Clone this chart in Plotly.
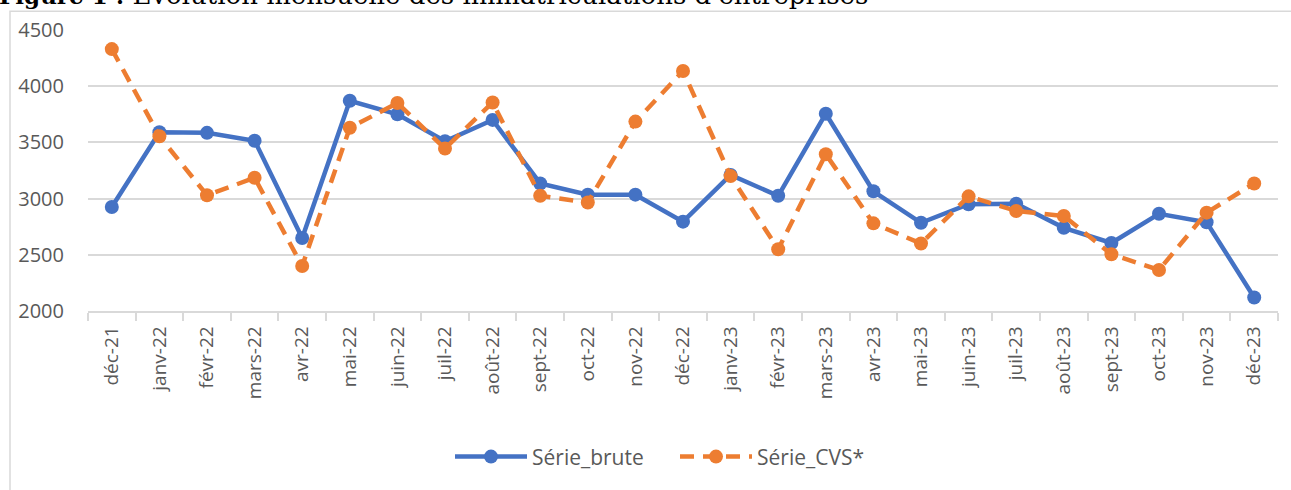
import plotly.graph_objects as go

months = ["déc-21", "janv-22", "févr-22", "mars-22", "avr-22", "mai-22", "juin-22",
          "juil-22", "août-22", "sept-22", "oct-22", "nov-22", "déc-22", "janv-23",
          "févr-23", "mars-23", "avr-23", "mai-23", "juin-23", "juil-23", "août-23",
          "sept-23", "oct-23", "nov-23", "déc-23"]

serie_brute = [2925, 3590, 3585, 3515, 2650, 3870, 3750, 3510, 3700, 3135, 3035, 3035,
               2795, 3210, 3025, 3755, 3065, 2785, 2950, 2955, 2740, 2605, 2865, 2790, 2120]

serie_cvs = [4330, 3555, 3030, 3185, 2400, 3630, 3850, 3445, 3855, 3025, 2965, 3685,
             4135, 3200, 2550, 3395, 2780, 2600, 3020, 2890, 2845, 2505, 2365, 2875, 3135]

y_ticks = [2000, 2500, 3000, 3500, 4000, 4500]

title_bold = "Figure 1 :"
title_rest = "Évolution mensuelle des immatriculations d'entreprises"

BLUE = "#4472C4"
ORANGE = "#ED7D31"
GRID = "#D9D9D9"
TXT = "#595959"

fig = go.Figure()
fig.add_trace(go.Scatter(
    x=months, y=serie_brute, name="Série_brute", mode="lines+markers",
    line=dict(color=BLUE, width=4.5),
    marker=dict(color=BLUE, size=14, symbol="circle"),
))
fig.add_trace(go.Scatter(
    x=months, y=serie_cvs, name="Série_CVS*", mode="lines+markers",
    line=dict(color=ORANGE, width=4.5, dash="14px,9px"),
    marker=dict(color=ORANGE, size=14, symbol="circle"),
))

L, R, T, B = 88, 13, 30, 177
W, H = 1291, 490
ph = H - T - B
pw = W - L - R

def px_x(p):
    return (p - L) / pw

def px_y(p):
    return (H - B - p) / ph

title_html = (f"<b><span style='font-size:23px'>{title_bold}</span></b> "
              f"<span style='font-size:26px'>{title_rest}</span>")

fig.update_layout(
    width=W, height=H,
    margin=dict(l=L, r=R, t=T, b=B, pad=0),
    paper_bgcolor="white", plot_bgcolor="white",
    showlegend=True,
    legend=dict(orientation="h", x=px_x(450), y=px_y(460), xanchor="left", yanchor="middle",
                font=dict(family="Open Sans", size=21, color=TXT), itemwidth=72,
                entrywidth=138, entrywidthmode="pixels",
                traceorder="normal", bgcolor="rgba(0,0,0,0)"),
    xaxis=dict(
        type="category", categoryorder="array", categoryarray=months,
        tickangle=-90, tickfont=dict(family="Open Sans", size=19, color=TXT),
        showgrid=False, showline=True, linecolor=GRID, linewidth=1.5,
        ticks="outside", ticklen=8, tickcolor=GRID, tickwidth=1.5, tickson="boundaries",
        ticklabelstandoff=6,
        range=[-0.5, len(months) - 0.5], fixedrange=True,
    ),
    yaxis=dict(
        range=[2000, 4500], tickvals=y_ticks, ticktext=[str(v) for v in y_ticks],
        tickfont=dict(family="Open Sans", size=20, color=TXT),
        showgrid=True, gridcolor=GRID, gridwidth=1.5, zeroline=False,
        showline=False, ticks="", ticklabelstandoff=23, fixedrange=True,
    ),
    shapes=[dict(type="rect", xref="paper", yref="paper",
                 x0=px_x(10), x1=px_x(1400), y0=px_y(600), y1=px_y(11),
                 line=dict(color=GRID, width=1.5), fillcolor="rgba(0,0,0,0)", layer="below")],
    annotations=[dict(text=title_html, xref="paper", yref="paper",
                      x=px_x(-3), y=px_y(12), xanchor="left", yanchor="bottom",
                      showarrow=False, font=dict(family="DejaVu Serif", size=26, color="black"))],
)

fig.write_html("out.html", config={"displayModeBar": False},
               post_script="document.body.style.margin='0';")
